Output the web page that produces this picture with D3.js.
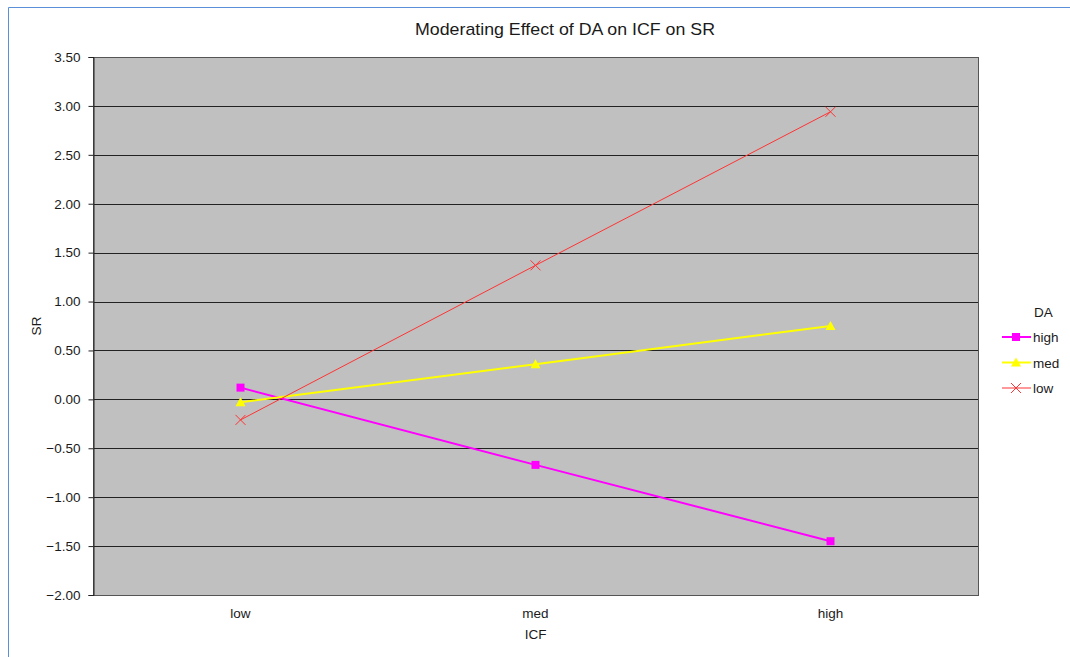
<!DOCTYPE html>
<html>
<head>
<meta charset="utf-8">
<script src="https://cdn.jsdelivr.net/npm/d3@7"></script>
<style>
  body { margin: 0; background: #fff; }
  text { font-family: "Liberation Sans", Arial, sans-serif; fill: #1a1a1a; }
</style>
</head>
<body>
<svg id="chart"></svg>
<script>
let width = 1070,
    height = 657,
    svg = d3.select("#chart").attr("width", width).attr("height", height);

// data
const categories = ["low", "med", "high"];
const seriesNames = ["high", "med", "low"];
const highValues = [0.12, -0.67, -1.45];
const medValues = [-0.03, 0.36, 0.75];
const lowValues = [-0.21, 1.37, 2.94];
const yTicks = [-2, -1.5, -1, -0.5, 0, 0.5, 1, 1.5, 2, 2.5, 3, 3.5];

const series = [
    {name: seriesNames[0], values: highValues, color: "#ff00ff", width: 2, marker: "square"},
    {name: seriesNames[1], values: medValues, color: "#ffff00", width: 2, marker: "triangle"},
    {name: seriesNames[2], values: lowValues, color: "#ff3333", width: 1, marker: "cross"}
];

const plot = {left: 93, top: 57, right: 978, bottom: 595};
const fs = "13.5px";

// outer frame
svg.append("path")
    .attr("d", `M8.5,${height} V7.5 H${width}`)
    .attr("fill", "none")
    .attr("stroke", "#5b8fd8")
    .attr("stroke-width", 1);

let x = d3.scaleBand().domain(categories).range([plot.left, plot.right]);
let y = d3.scaleLinear().domain([-2, 3.5]).range([plot.bottom, plot.top]);

svg.append("rect")
    .attr("x", plot.left)
    .attr("y", plot.top)
    .attr("width", plot.right - plot.left)
    .attr("height", plot.bottom - plot.top)
    .attr("fill", "#c0c0c0");

// gridlines
svg.selectAll(".grid")
    .data(yTicks)
    .enter()
    .append("line")
    .attr("x1", plot.left)
    .attr("x2", plot.right)
    .attr("y1", d => Math.round(y(d)) + 0.5)
    .attr("y2", d => Math.round(y(d)) + 0.5)
    .attr("stroke", "#222")
    .attr("stroke-width", 1);

svg.append("rect")
    .attr("x", plot.left + 0.5)
    .attr("y", plot.top + 0.5)
    .attr("width", plot.right - plot.left)
    .attr("height", plot.bottom - plot.top)
    .attr("fill", "none")
    .attr("stroke", "#555")
    .attr("stroke-width", 1);

// y axis
let yAxis = svg.append("g")
    .attr("transform", `translate(${plot.left + 0.5},0)`)
    .call(d3.axisLeft(y).tickValues(yTicks).tickFormat(d3.format(".2f")).tickSize(5).tickPadding(8));
yAxis.select(".domain").attr("stroke", "#222");
yAxis.selectAll(".tick line").attr("stroke", "#222");
yAxis.selectAll("text")
    .style("font-size", fs)
    .style("font-family", "'Liberation Sans', Arial, sans-serif")
    .attr("fill", "#1a1a1a");

// x labels
svg.selectAll(".xlab")
    .data(categories)
    .enter()
    .append("text")
    .attr("x", d => x(d) + x.bandwidth() / 2)
    .attr("y", 618)
    .attr("text-anchor", "middle")
    .style("font-size", fs)
    .text(d => d);

svg.append("text")
    .attr("x", x("med") + x.bandwidth() / 2)
    .attr("y", 639)
    .attr("text-anchor", "middle")
    .style("font-size", fs)
    .text("ICF");

svg.append("text")
    .attr("transform", "translate(41,326) rotate(-90)")
    .attr("text-anchor", "middle")
    .style("font-size", fs)
    .text("SR");

svg.append("text")
    .attr("x", 415)
    .attr("y", 35)
    .attr("textLength", 300)
    .attr("lengthAdjust", "spacingAndGlyphs")
    .style("font-size", "17px")
    .text("Moderating Effect of DA on ICF on SR");

function drawMarker(g, type, color) {
    if (type === "square") {
        g.append("rect").attr("x", -4).attr("y", -4).attr("width", 8).attr("height", 8).attr("fill", color);
    } else if (type === "triangle") {
        g.append("path").attr("d", "M0,-5 L5,4 L-5,4 Z").attr("fill", color);
    } else {
        g.append("path").attr("d", "M-5,-5 L5,5 M-5,5 L5,-5")
            .attr("stroke", color).attr("stroke-width", 1).attr("fill", "none");
    }
}

let line = d3.line()
    .x((d, i) => x(categories[i]) + x.bandwidth() / 2)
    .y(d => y(d));

series.forEach(s => {
    svg.append("path")
        .datum(s.values)
        .attr("d", line)
        .attr("fill", "none")
        .attr("stroke", s.color)
        .attr("stroke-width", s.width);
    s.values.forEach((v, i) => {
        let g = svg.append("g")
            .attr("transform", `translate(${x(categories[i]) + x.bandwidth() / 2},${y(v)})`);
        drawMarker(g, s.marker, s.color);
    });
});

// legend
svg.append("text")
    .attr("x", 1034)
    .attr("y", 317)
    .style("font-size", fs)
    .text("DA");

series.forEach((s, i) => {
    let ly = 337 + i * 25.5;
    svg.append("line")
        .attr("x1", 1002).attr("x2", 1031)
        .attr("y1", ly).attr("y2", ly)
        .attr("stroke", s.color)
        .attr("stroke-width", s.width);
    let g = svg.append("g").attr("transform", `translate(1016,${ly})`);
    drawMarker(g, s.marker, s.color);
    svg.append("text")
        .attr("x", 1033)
        .attr("y", ly + 5)
        .style("font-size", fs)
        .text(s.name);
});
</script>
</body>
</html>
